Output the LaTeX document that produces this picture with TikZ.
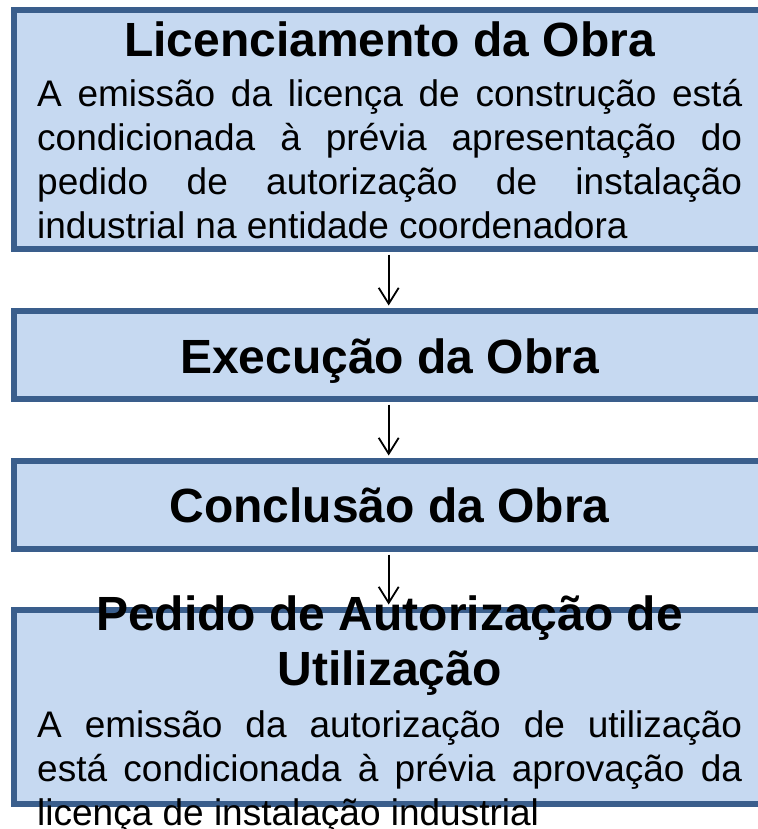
\documentclass[tikz,border=0pt]{standalone}
\usepackage{fontspec}
\setmainfont{Liberation Sans}
\usetikzlibrary{arrows.meta}
\definecolor{boxfill}{RGB}{198,217,241}
\definecolor{boxline}{RGB}{58,94,140}
\newcommand\jline[1]{\hbox to 705pt{#1}}
\newcommand\cenline[1]{\hbox to 0pt{\hss #1\hss}}
\newcommand\titlefont{\fontsize{48}{55}\selectfont\bfseries}
\newcommand\bodyfont{\fontsize{37}{44}\selectfont}
\begin{document}
\begin{tikzpicture}[x=1pt,y=-1pt,
  box/.style={draw=boxline, fill=boxfill, line width=5.5pt, rectangle, inner sep=0pt,
    minimum width=786pt},
  title/.style={anchor=base, inner sep=0pt, font=\titlefont},
  body/.style={anchor=base west, inner sep=0pt, font=\bodyfont},
  conn/.style={-{Straight Barb[length=16pt,width=20pt]}, line width=1.8pt,
    shorten <=2.75pt, shorten >=2.75pt}]
\useasboundingbox (0,0) rectangle (757,829);
\coordinate (ax) at (388.7,0);
\node[box, minimum height=239pt] (b1) at (407,129.5) {};
\node[box, minimum height=88pt] (b2) at (407,355) {};
\node[box, minimum height=88pt] (b3) at (407,505) {};
\node[box, minimum height=194pt] (b4) at (407,707) {};
\draw[conn] (b1.south -| ax) -- (b2.north -| ax);
\draw[conn] (b2.south -| ax) -- (b3.north -| ax);
\draw[conn] (b3.south -| ax) -- (b4.north -| ax);
\node[title] (t1) at (389.5,57) {Licenciamento da Obra};
\node[body] (d1) at (37,107) {\vtop{\baselineskip=44pt\lineskip=0pt
  \jline{A emissão da licença de construção está}
  \jline{condicionada à prévia apresentação do}
  \jline{pedido de autorização de instalação}
  \hbox{industrial na entidade coordenadora}}};
\node[title] (t2) at (389.5,373) {Execução da Obra};
\node[title] (t3) at (389.5,522) {Conclusão da Obra};
\node[title] (t4) at (389.5,630) {\vtop{\baselineskip=55pt\lineskip=0pt
  \cenline{Pedido de Autorização de}
  \cenline{Utilização}}};
\node[body] (d4) at (37,737) {\vtop{\baselineskip=44pt\lineskip=0pt
  \jline{A emissão da autorização de utilização}
  \jline{está condicionada à prévia aprovação da}
  \hbox{licença de instalação industrial}}};
\end{tikzpicture}
\end{document}
